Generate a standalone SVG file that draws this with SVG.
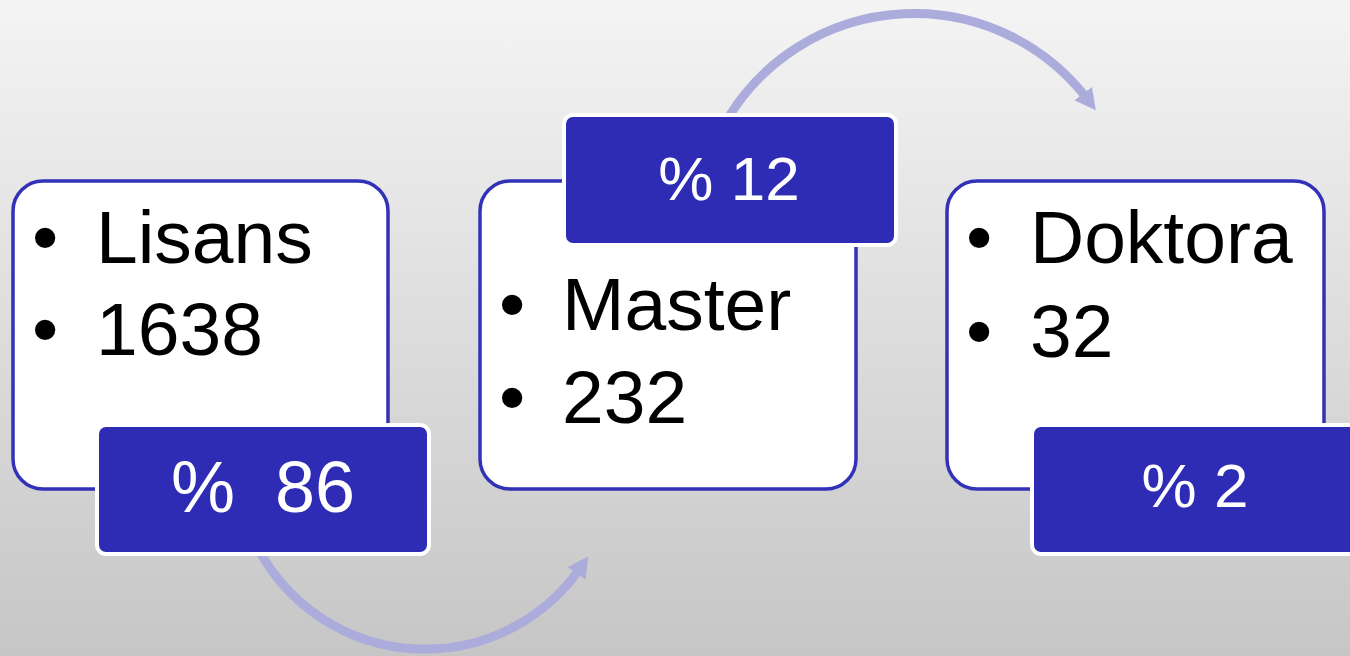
<svg xmlns="http://www.w3.org/2000/svg" width="1350" height="656" viewBox="0 0 1350 656">
  <defs>
    <linearGradient id="bg" x1="0" y1="0" x2="0" y2="1">
      <stop offset="0" stop-color="#f4f4f4"/>
      <stop offset="1" stop-color="#c6c6c6"/>
    </linearGradient>
    <marker id="arrow" markerUnits="userSpaceOnUse" markerWidth="24" markerHeight="26" refX="8" refY="12" orient="auto">
      <path d="M0,1 L21,12 L0,23 Z" fill="#acacdc"/>
    </marker>
    <style>
      .box { fill: #ffffff; stroke: #3232b8; stroke-width: 3.5; }
      .tag { fill: #2e2bb5; stroke: #ffffff; stroke-width: 4; }
      .item { font-family: "Liberation Sans", Arial, sans-serif; font-size: 75px; fill: #000000; }
      .pct { font-family: "Liberation Sans", Arial, sans-serif; font-size: 62px; fill: #ffffff; text-anchor: middle; white-space: pre; }
      .pct.big { font-size: 72px; }
      .conn { fill: none; stroke: #acacdc; stroke-width: 9; }
    </style>
  </defs>
  <rect x="0" y="0" width="1350" height="656" fill="url(#bg)"/>

  <g id="connectors">
    <path class="conn" d="M260,552 A189,189 0 0 0 581,567" marker-end="url(#arrow)"/>
    <path class="conn" d="M728,118 A218,218 0 0 1 1088,100" marker-end="url(#arrow)"/>
  </g>

  <g id="node-lisans">
    <rect class="box" x="13" y="181" width="375" height="308" rx="30"/>
    <text class="item" x="32" y="263">•</text>
    <text class="item" x="96" y="263">Lisans</text>
    <text class="item" x="32" y="355">•</text>
    <text class="item" x="96" y="355">1638</text>
    <rect class="tag" x="97" y="425" width="332" height="129" rx="9"/>
    <text class="pct big" x="263" y="512" xml:space="preserve">%  86</text>
  </g>

  <g id="node-master">
    <rect class="box" x="480" y="181" width="376" height="308" rx="30"/>
    <text class="item" x="499" y="330">•</text>
    <text class="item" x="562" y="330">Master</text>
    <text class="item" x="499" y="423">•</text>
    <text class="item" x="562" y="423">232</text>
    <rect class="tag" x="564" y="115" width="332" height="130" rx="9"/>
    <text class="pct" x="729" y="200" xml:space="preserve">% 12</text>
  </g>

  <g id="node-doktora">
    <rect class="box" x="947" y="181" width="377" height="308" rx="30"/>
    <text class="item" x="966" y="263">•</text>
    <text class="item" x="1030" y="263">Doktora</text>
    <text class="item" x="966" y="357">•</text>
    <text class="item" x="1030" y="357">32</text>
    <rect class="tag" x="1032" y="425" width="332" height="129" rx="9"/>
    <text class="pct" x="1195" y="507" xml:space="preserve">% 2</text>
  </g>
</svg>
